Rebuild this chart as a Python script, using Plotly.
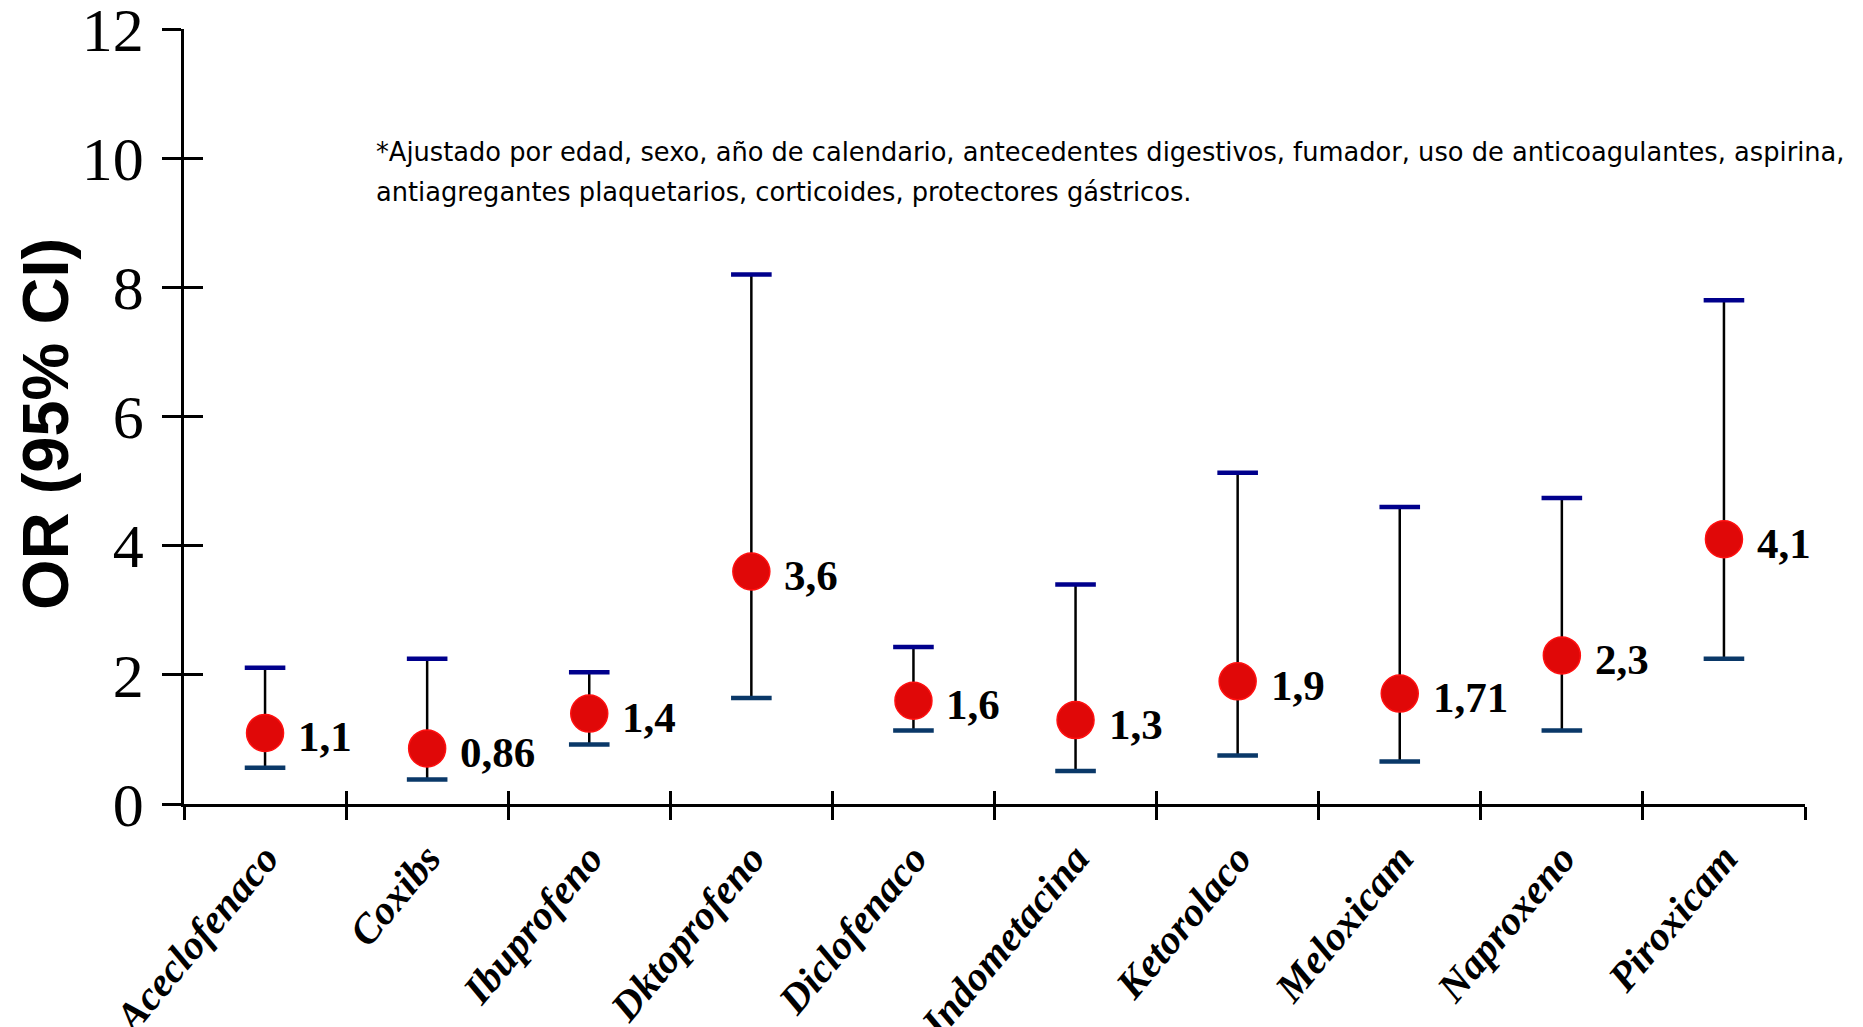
import plotly.graph_objects as go

categories = ["Aceclofenaco", "Coxibs", "Ibuprofeno", "Dktoprofeno", "Diclofenaco",
              "Indometacina", "Ketorolaco", "Meloxicam", "Naproxeno", "Piroxicam"]
or_values = [1.1, 0.86, 1.4, 3.6, 1.6, 1.3, 1.9, 1.71, 2.3, 4.1]
or_labels = ["1,1", "0,86", "1,4", "3,6", "1,6", "1,3", "1,9", "1,71", "2,3", "4,1"]
ci_upper = [2.11, 2.25, 2.04, 8.2, 2.43, 3.4, 5.13, 4.6, 4.74, 7.8]
ci_lower = [0.56, 0.38, 0.92, 1.64, 1.14, 0.51, 0.75, 0.66, 1.14, 2.25]
y_ticks = [0, 2, 4, 6, 8, 10, 12]
footnote_1 = "*Ajustado por edad, sexo, año de calendario, antecedentes digestivos, fumador, uso de anticoagulantes, aspirina,"
footnote_2 = "antiagregantes plaquetarios, corticoides, protectores gástricos."

err_plus = [u - v for u, v in zip(ci_upper, or_values)]
err_minus = [v - l for v, l in zip(or_values, ci_lower)]

fig = go.Figure()

# stems
fig.add_trace(go.Scatter(
    x=categories, y=or_values, mode="markers",
    marker=dict(size=1, opacity=0),
    error_y=dict(type="data", array=err_plus, arrayminus=err_minus,
                 color="black", thickness=2.5, width=0),
    hoverinfo="skip", showlegend=False))
# upper caps
fig.add_trace(go.Scatter(
    x=categories, y=ci_upper, mode="markers",
    marker=dict(symbol="line-ew", size=29, line=dict(width=4.5, color="#00008C")),
    hoverinfo="skip", showlegend=False))
# lower caps
fig.add_trace(go.Scatter(
    x=categories, y=ci_lower, mode="markers",
    marker=dict(symbol="line-ew", size=29, line=dict(width=4.5, color="#0A3868")),
    hoverinfo="skip", showlegend=False))
# points
fig.add_trace(go.Scatter(
    x=categories, y=or_values, mode="markers",
    marker=dict(size=37, color="#E00808", line=dict(width=1.5, color="#FF1010")),
    showlegend=False))
# helper for crossing ticks
fig.add_trace(go.Scatter(
    x=categories, y=or_values, xaxis="x2", yaxis="y2", mode="markers",
    marker=dict(size=1, opacity=0), hoverinfo="skip", showlegend=False))

axis_common = dict(showgrid=False, zeroline=False)

value_annotations = [
    dict(text=f"<b>{lab}</b>", x=cat, y=val, xref="x", yref="y",
         xanchor="left", yanchor="middle", xshift=31, yshift=-4,
         showarrow=False,
         font=dict(family="Liberation Serif", size=43, color="black"))
    for cat, val, lab in zip(categories, or_values, or_labels)
]

fig.update_layout(
    width=1855, height=1019,
    margin=dict(l=176, r=58, t=21, b=223, autoexpand=False),
    paper_bgcolor="white", plot_bgcolor="white",
    xaxis=dict(
        type="category", categoryorder="array", categoryarray=categories,
        range=[-0.5, 9.5], tickson="boundaries",
        ticks="outside", ticklen=13, tickwidth=2.5, tickcolor="black",
        showline=True, linecolor="black", linewidth=2.5,
        tickangle=-50, ticklabelstandoff=11,
        tickfont=dict(family="Liberation Serif", size=41, color="black",
                      weight="bold", style="italic"),
        automargin=False, **axis_common),
    yaxis=dict(
        range=[0, 12], tickvals=y_ticks,
        ticks="outside", ticklen=19, tickwidth=2.5, tickcolor="black",
        showline=True, linecolor="black", linewidth=2.5,
        ticklabelstandoff=6, ticklabeloverflow="allow",
        tickfont=dict(family="Liberation Serif", size=62, color="black"),
        automargin=False, **axis_common),
    xaxis2=dict(
        type="category", categoryorder="array", categoryarray=categories,
        range=[-0.5, 9.5], tickson="boundaries", overlaying="x", anchor="y",
        side="bottom", ticks="inside", ticklen=13, tickwidth=2.5, tickcolor="black",
        showticklabels=False, showline=False, automargin=False, **axis_common),
    yaxis2=dict(
        range=[0, 12], tickvals=y_ticks, overlaying="y", anchor="x", side="left",
        ticks="inside", ticklen=19, tickwidth=2.5, tickcolor="black",
        showticklabels=False, showline=False, automargin=False, **axis_common),
    annotations=[
        dict(text="<b>OR (95% CI)</b>", xref="paper", yref="paper",
             x=-0.0855, y=0.491, xanchor="center", yanchor="middle",
             textangle=-90, showarrow=False,
             font=dict(family="Liberation Sans", size=65, color="black")),
        dict(text=footnote_1, xref="paper", yref="paper",
             x=0.117, y=0.841, xanchor="left", yanchor="middle",
             showarrow=False,
             font=dict(family="DejaVu Sans", size=25.7, color="black")),
        dict(text=footnote_2, xref="paper", yref="paper",
             x=0.117, y=0.790, xanchor="left", yanchor="middle",
             showarrow=False,
             font=dict(family="DejaVu Sans", size=25.7, color="black")),
    ] + value_annotations,
)

fig.write_html("out.html")
